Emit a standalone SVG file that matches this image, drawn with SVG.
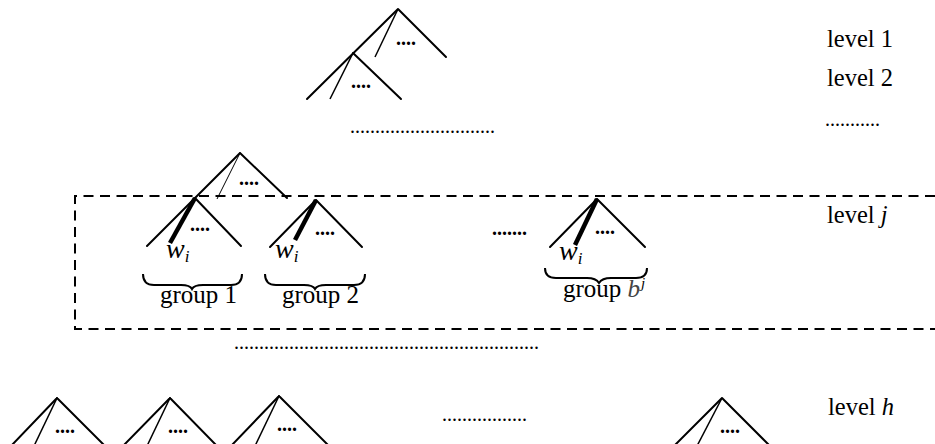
<svg xmlns="http://www.w3.org/2000/svg" width="935" height="444" viewBox="0 0 935 444">
<style>
.ln{stroke:#000;stroke-width:2;fill:none;stroke-linecap:round}
.in{stroke:#000;stroke-width:1.5;fill:none}
.thin{stroke:#000;stroke-width:1;fill:none}
.thk{stroke:#000;stroke-width:4.5;fill:none}
.br{stroke:#000;stroke-width:2;fill:none}
.dots{font-family:"Liberation Serif",serif;font-size:20px;font-weight:bold;fill:#000}
.ell{font-family:"Liberation Serif",serif;font-size:20px;fill:#000}
.lvl{font-family:"Liberation Serif",serif;font-size:24.5px;fill:#000}
.grp{font-family:"Liberation Serif",serif;font-size:25px;fill:#000}
.w{font-family:"Liberation Serif",serif;font-size:28px;font-style:italic;fill:#000}
.sub{font-size:17px}
</style>
<rect width="935" height="444" fill="#fff"/>

<g id="level1-tree">
<path class="ln" d="M398,9 L307,99 M398,9 L446,57"/>
<path class="in" d="M398,9 L375,57"/>
<text class="dots" x="396" y="45">....</text>
</g>
<g id="level2-tree">
<path class="ln" d="M353,53 L401,99"/>
<path class="in" d="M353,53 L330,99"/>
<text class="dots" x="351" y="88">....</text>
</g>
<text id="top-ellipsis" class="ell" x="350" y="133">.............................</text>

<g id="labels">
<text class="lvl" x="827" y="47">level 1</text>
<text class="lvl" x="827" y="86">level 2</text>
<text class="ell" x="825" y="126">...........</text>
<text class="lvl" x="827" y="223">level <tspan font-style="italic">j</tspan></text>
<text class="lvl" x="828" y="415">level <tspan font-style="italic">h</tspan></text>
</g>

<path id="level-j-box" d="M935,196 H75 V329 H935" fill="none" stroke="#000" stroke-width="2" stroke-dasharray="10 6.5"/>

<g id="parent-tree">
<path class="ln" d="M240,153 L147,246 M240,153 L287,198"/>
<path class="thin" d="M240,153 L217,199"/>
<text class="dots" x="239" y="185">....</text>
</g>

<g id="group1">
<path class="ln" d="M195,198 L241,246"/>
<path class="thk" d="M195,198 L170,243"/>
<text class="dots" x="190" y="231">....</text>
<text class="w" x="166" y="258">w<tspan class="sub" dy="4">i</tspan></text>
<path class="br" d="M143,274 Q143,285 154,285 L181,285 Q190,285 192,289 Q194,285 203,285 L231,285 Q242,285 242,274"/>
<text class="grp" x="160" y="303">group 1</text>
</g>

<g id="group2">
<path class="ln" d="M316,200 L270,247 M316,200 L362,247"/>
<path class="thk" d="M316,200 L295,240"/>
<text class="dots" x="315" y="235">....</text>
<text class="w" x="275" y="258">w<tspan class="sub" dy="4">i</tspan></text>
<path class="br" d="M265,274 Q265,285 276,285 L304,285 Q313,285 315,289 Q317,285 326,285 L354,285 Q365,285 365,274"/>
<text class="grp" x="282" y="303">group 2</text>
</g>

<text id="mid-ellipsis" class="dots" x="492" y="235">.......</text>

<g id="groupb">
<path class="ln" d="M597,199 L550,247 M597,199 L645,247"/>
<path class="thk" d="M597,199 L575,245"/>
<text class="dots" x="595" y="234">....</text>
<text class="w" x="559" y="260">w<tspan class="sub" dy="4">i</tspan></text>
<path class="br" d="M545,268 Q545,278 556,278 L587,278 Q596,278 599,283 Q602,278 611,278 L636,278 Q647,278 647,268"/>
<text class="grp" x="563" y="297">group <tspan font-style="italic" fill="#444">b</tspan><tspan font-style="italic" font-size="15" dx="1" dy="-9">j</tspan></text>
</g>

<text id="lower-ellipsis" class="ell" x="234" y="349">.............................................................</text>

<g id="leaf1">
<path class="ln" d="M57,398 L11,446 M57,398 L105,446"/>
<path class="in" d="M57,398 L34,446"/>
<text class="dots" x="55" y="433">....</text>
</g>
<g id="leaf2">
<path class="ln" d="M170,398 L123,446 M170,398 L217,446"/>
<path class="in" d="M170,398 L147,446"/>
<text class="dots" x="168" y="433">....</text>
</g>
<g id="leaf3">
<path class="ln" d="M279,396 L231,446 M279,396 L329,446"/>
<path class="in" d="M279,396 L255,446"/>
<text class="dots" x="277" y="431">....</text>
</g>
<text id="leaf-ellipsis" class="ell" x="442" y="421">.................</text>
<g id="leaf4">
<path class="ln" d="M722,398 L674,446 M722,398 L770,446"/>
<path class="in" d="M722,398 L697,446"/>
<text class="dots" x="720" y="433">....</text>
</g>
</svg>
